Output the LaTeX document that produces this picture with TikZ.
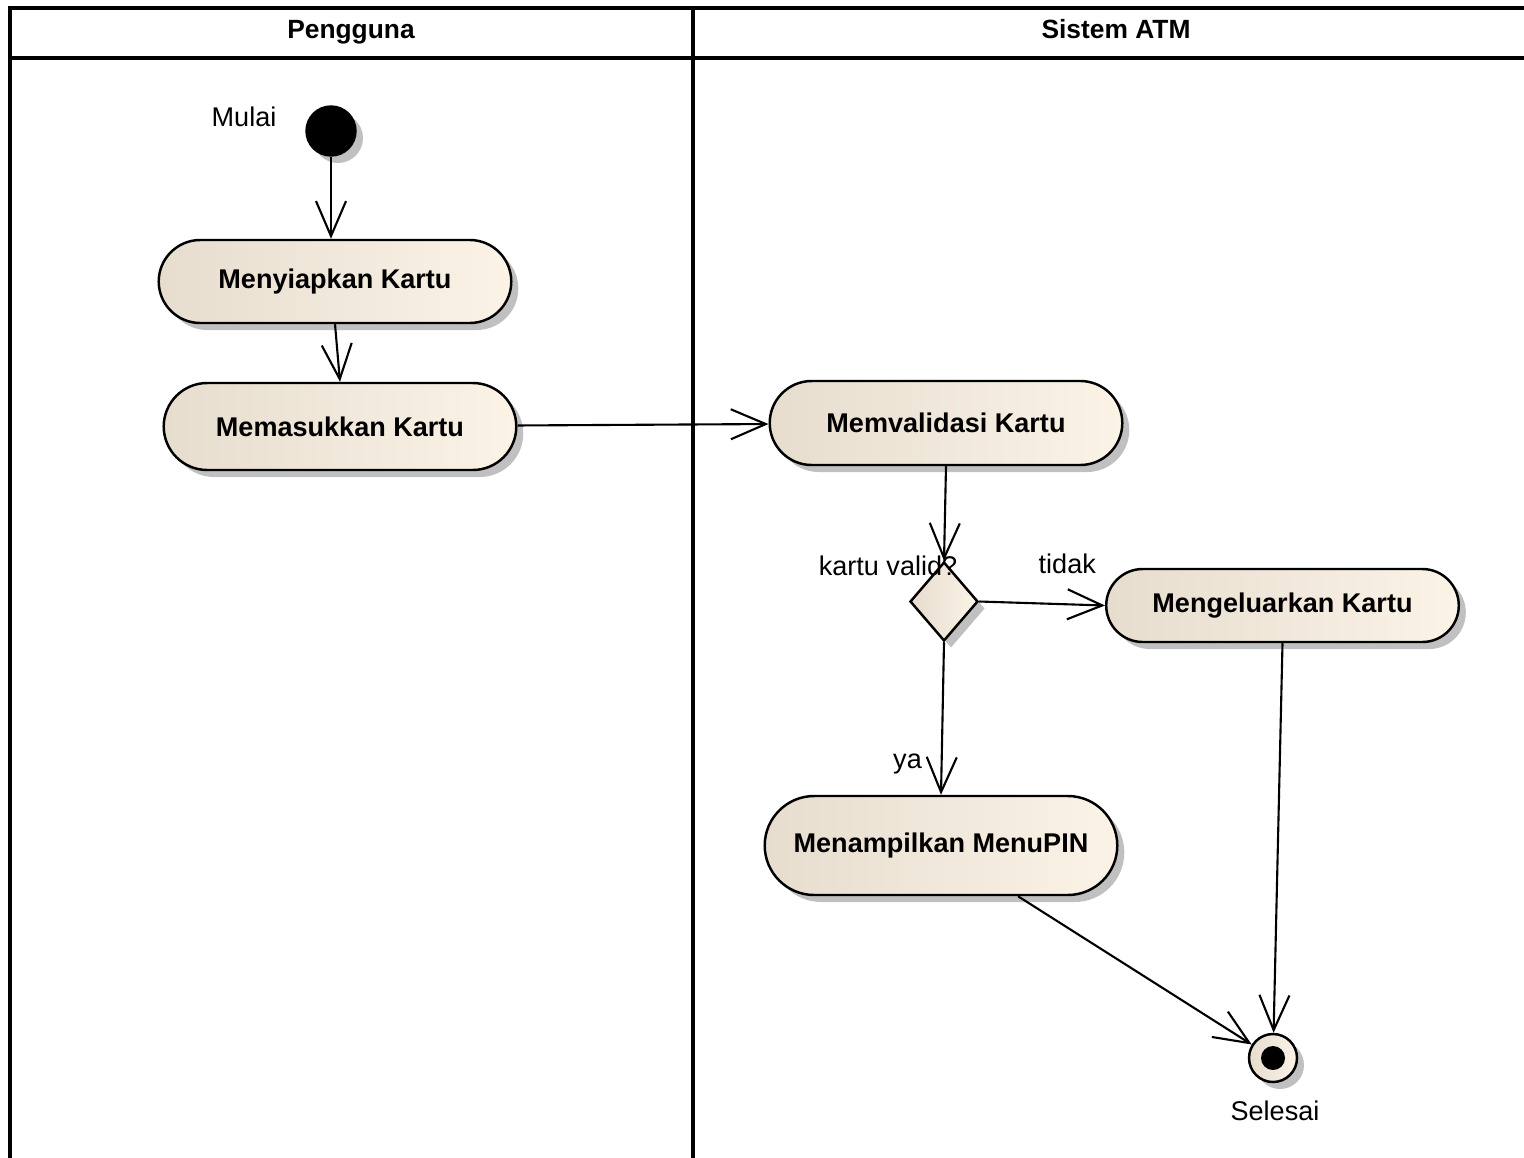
\documentclass[tikz,border=0pt]{standalone}
\usepackage{fontspec}
\setmainfont{Liberation Sans}
\usetikzlibrary{arrows.meta,calc,shapes.geometric,shapes.misc,shadows}
\definecolor{actleft}{RGB}{230,221,207}
\definecolor{actright}{RGB}{251,243,230}
\definecolor{shadegray}{RGB}{192,192,192}

\begin{document}
\begin{tikzpicture}[
  every node/.style={font=\fontsize{7.7}{9}\selectfont},
  lane/.style={anchor=base,font=\fontsize{7.5}{9}\selectfont\bfseries},
  shadowed/.style={drop shadow={shadow xshift=0.07cm,shadow yshift=-0.07cm,fill=shadegray,opacity=1}},
  act/.style={rounded rectangle,draw,line width=0.7pt,minimum width=3.76cm,left color=actleft,right color=actright,
    font=\fontsize{7.7}{9}\selectfont\bfseries,shadowed},
  flow/.style={line width=0.6pt,-{Straight Barb[length=3.5mm,width=3mm]}}
]
  \clip (0,0) rectangle (15.24,-11.57);
  \draw[line width=1pt] (0.10,-11.8) |- (15.5,-0.08);
  \draw[line width=1pt] (0.10,-0.58) -- (15.5,-0.58);
  \draw[line width=1pt] (6.93,-0.08) -- (6.93,-11.8);
  \node[lane] (lane1) at (3.51,-0.38) {Pengguna};
  \node[lane] (lane2) at (11.16,-0.38) {Sistem ATM};

  \node[circle,fill=black,draw,minimum size=0.5cm,inner sep=0,shadowed] (start) at (3.31,-1.31) {};
  \node (mulai) at (2.44,-1.17) {Mulai};
  \node[act,minimum height=0.83cm] (siap) at (3.35,-2.815) {Menyiapkan Kartu};
  \node[act,minimum height=0.87cm] (masuk) at (3.40,-4.265) {Memasukkan Kartu};
  \node[act,minimum height=0.84cm] (valid) at (9.46,-4.23) {Memvalidasi Kartu};
  \node[diamond,draw,line width=0.7pt,minimum width=0.68cm,minimum height=0.79cm,inner sep=0,
    left color=actleft,right color=actright,shadowed] (cek) at (9.44,-6.015) {};
  \node (cekl) at (8.88,-5.66) {kartu valid?};
  \node[act,minimum height=0.73cm] (keluar) at (12.825,-6.055) {Mengeluarkan Kartu};
  \node[act,minimum height=0.99cm] (pin) at (9.41,-8.455) {Menampilkan MenuPIN};
  \node[circle,draw,line width=0.7pt,minimum size=0.48cm,inner sep=0,left color=actleft,right color=actright,shadowed] (end) at (12.73,-10.58) {};
  \fill (end) circle (0.12);
  \node (selesai) at (12.75,-11.11) {Selesai};

  \draw[flow] (start.south) -- (start.south |- siap.north);
  \draw[flow] (siap.south) -- (masuk.north);
  \draw[flow] (masuk) -- (valid);
  \draw[flow] (valid.south) -- (cek.north);
  \draw[flow] (cek.east) -- node[pos=0.7,above=5pt] (tidak) {tidak} (keluar.west);
  \draw[flow] (cek.south) -- node[pos=0.8,left=2pt] (ya) {ya} (pin.north);
  \draw[flow] ($(pin.south)+(0.77,0)$) -- (end);
  \draw[flow] (keluar.south) -- (end);
\end{tikzpicture}
\end{document}
